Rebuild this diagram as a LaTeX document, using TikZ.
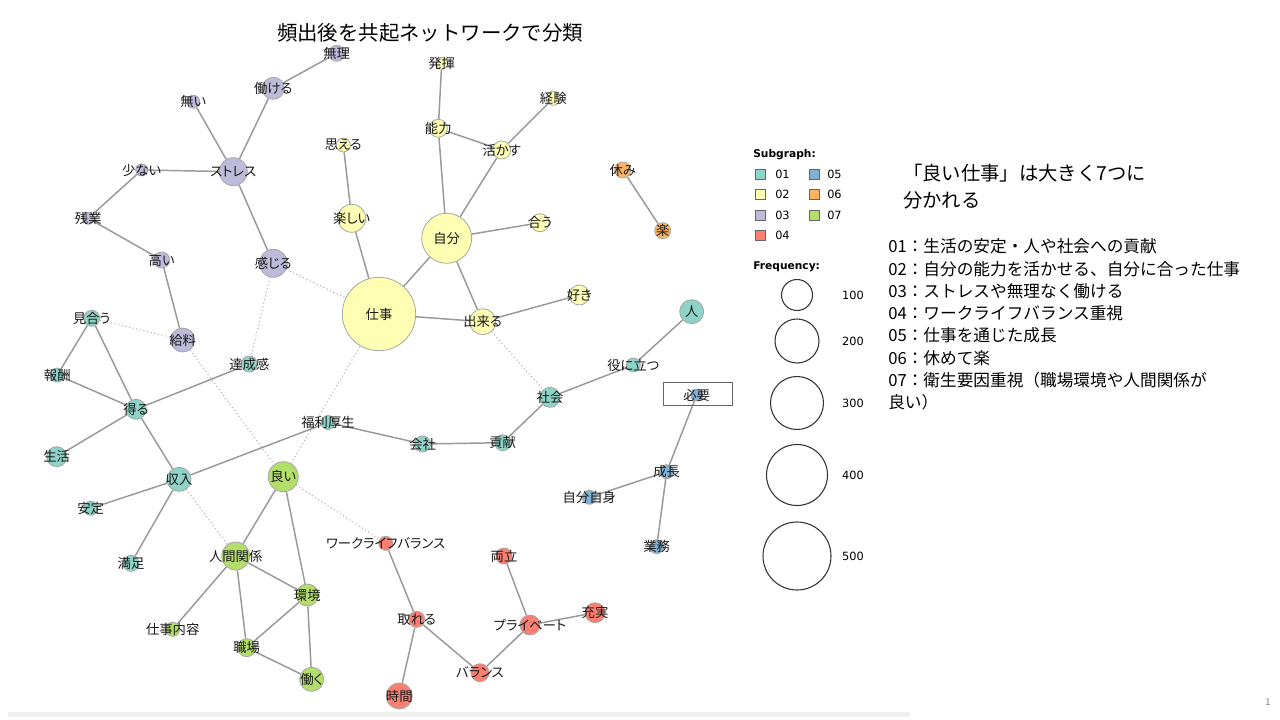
\documentclass[tikz,border=0pt]{standalone}
\usepackage{fontspec}
\setmainfont{Noto Sans CJK JP}
\newfontfamily\labfont[RawFeature=+palt]{Noto Sans CJK JP}
\newfontfamily\legfont{DejaVu Sans}
\usetikzlibrary{backgrounds}
\definecolor{sg01}{HTML}{8DD3C7}
\definecolor{sg02}{HTML}{FFFFB3}
\definecolor{sg03}{HTML}{BEBADA}
\definecolor{sg04}{HTML}{FB8072}
\definecolor{sg05}{HTML}{80B1D3}
\definecolor{sg06}{HTML}{FDB462}
\definecolor{sg07}{HTML}{B3DE69}

\begin{document}
\begin{tikzpicture}[x=0.75pt, y=-0.75pt,
	wn/.style={circle, draw=black!35, line width=0.6pt, inner sep=0pt},
	rad/.style={minimum size=#1*1.5pt},
	every label/.style={font=\labfont\fontsize{10}{12}\selectfont, inner sep=0pt, text=black!90},
	edge/.style={draw=black!40, line width=1.1pt},
	weak/.style={draw=black!30, line width=0.8pt, dotted},
	sq/.style={draw=black!60, line width=0.6pt, minimum size=7.5pt, inner sep=0pt},
	leg/.style={font=\legfont\fontsize{8.5}{10}\selectfont, inner sep=0pt, anchor=west},
	fc/.style={circle, draw=black!80, line width=0.8pt, inner sep=0pt}] %ピクセル単位の座標
					\useasboundingbox (0,0) rectangle (1280,720);
						%タイトル
					\node[font=\fontsize{15.3}{18}\selectfont, inner sep=0pt] (title) at (430,33) {頻出後を共起ネットワークで分類};
						%03 ストレス
					\node[wn, fill=sg03, rad=8, label=center:無理] (muri) at (336.7,53.3) {};
					\node[wn, fill=sg03, rad=11, label=center:働ける] (hatarakeru) at (273.3,88.3) {};
					\node[wn, fill=sg03, rad=6.5, label=center:無い] (nai) at (193.3,101.7) {};
					\node[wn, fill=sg03, rad=14, label=center:ストレス] (stress) at (233.3,171.7) {};
					\node[wn, fill=sg03, rad=6, label=center:少ない] (sukunai) at (141.7,170) {};
					\node[wn, fill=sg03, rad=6, label=center:残業] (zangyo) at (88.3,218.3) {};
					\node[wn, fill=sg03, rad=8, label=center:高い] (takai) at (161.7,260) {};
					\node[wn, fill=sg03, rad=14, label=center:感じる] (kanjiru) at (273.3,263.3) {};
					\node[wn, fill=sg03, rad=12, label=center:給料] (kyuryo) at (182.7,340) {};
						%02 自分
					\node[wn, fill=sg02, rad=7, label=center:思える] (omoeru) at (343.3,145) {};
					\node[wn, fill=sg02, rad=14, label=center:楽しい] (tanoshii) at (351.7,218.3) {};
					\node[wn, fill=sg02, rad=36.7, label=center:仕事] (shigoto) at (379,314) {};
					\node[wn, fill=sg02, rad=25, label=center:自分] (jibun) at (446.7,238.3) {};
					\node[wn, fill=sg02, rad=9, label=center:能力] (noryoku) at (438.3,128.3) {};
					\node[wn, fill=sg02, rad=6, label=center:発揮] (hakki) at (441.7,63.3) {};
					\node[wn, fill=sg02, rad=9, label=center:活かす] (ikasu) at (501.7,150) {};
					\node[wn, fill=sg02, rad=7, label=center:経験] (keiken) at (553.3,98.3) {};
					\node[wn, fill=sg02, rad=9, label=center:合う] (au) at (540,222.7) {};
					\node[wn, fill=sg02, rad=13, label=center:出来る] (dekiru) at (482.7,321.7) {};
					\node[wn, fill=sg02, rad=10, label=center:好き] (suki) at (579.3,295) {};
						%06 休み
					\node[wn, fill=sg06, rad=8, label=center:休み] (yasumi) at (622.7,170) {};
					\node[wn, fill=sg06, rad=8, label=center:楽] (raku) at (662.7,230.7) {};
						%01 生活・社会
					\node[wn, fill=sg01, rad=12, label=center:人] (hito) at (691.7,311.7) {};
					\node[wn, fill=sg01, rad=7, label=center:役に立つ] (yakunitatsu) at (633.3,365) {};
					\node[wn, fill=sg01, rad=10, label=center:社会] (shakai) at (550,397.3) {};
					\node[wn, fill=sg01, rad=8, label=center:貢献] (koken) at (502.7,442.7) {};
					\node[wn, fill=sg01, rad=8, label=center:会社] (kaisha) at (422.7,444) {};
					\node[wn, fill=sg01, rad=7, label=center:福利厚生] (fukuri) at (328,422.5) {};
					\node[wn, fill=sg01, rad=8, label=center:見合う] (miau) at (91.7,318.3) {};
					\node[wn, fill=sg01, rad=7, label=center:報酬] (hoshu) at (57.3,375) {};
					\node[wn, fill=sg01, rad=10, label=center:得る] (eru) at (136,409.3) {};
					\node[wn, fill=sg01, rad=8, label=center:達成感] (tassei) at (249.3,364) {};
					\node[wn, fill=sg01, rad=10, label=center:生活] (seikatsu) at (56.7,456.7) {};
					\node[wn, fill=sg01, rad=12, label=center:収入] (shunyu) at (179,479.3) {};
					\node[wn, fill=sg01, rad=7, label=center:安定] (antei) at (90.7,508.3) {};
					\node[wn, fill=sg01, rad=8, label=center:満足] (manzoku) at (131,563.3) {};
						%07 職場環境
					\node[wn, fill=sg07, rad=15, label=center:良い] (yoi) at (283.3,476.7) {};
					\node[wn, fill=sg07, rad=14, label=center:人間関係] (ningen) at (235.7,556) {};
					\node[wn, fill=sg07, rad=7, label=center:仕事内容] (naiyo) at (172.7,629.3) {};
					\node[wn, fill=sg07, rad=11, label=center:環境] (kankyo) at (307.3,595) {};
					\node[wn, fill=sg07, rad=9, label=center:職場] (shokuba) at (246.7,647.7) {};
					\node[wn, fill=sg07, rad=12, label=center:働く] (hataraku) at (311.7,679.3) {};
						%05 成長
					\node[draw=black!60, line width=0.8pt, minimum width=51.75pt, minimum height=16.9pt, inner sep=0pt] (hitsuyobox) at (697.8,394) {}; %囲み枠
					\node[wn, fill=sg05, rad=6, label=center:必要] (hitsuyo) at (696.7,395) {};
					\node[wn, fill=sg05, rad=7, label=center:成長] (seicho) at (666.7,471.7) {};
					\node[wn, fill=sg05, rad=7, label=center:自分自身] (jishin) at (589.3,497.3) {};
					\node[wn, fill=sg05, rad=7, label=center:業務] (gyomu) at (656.7,546.7) {};
						%04 ワークライフバランス
					\node[wn, fill=sg04, rad=7, label=center:ワークライフバランス] (wlb) at (385.7,543.3) {};
					\node[wn, fill=sg04, rad=8, label=center:取れる] (toreru) at (416.7,619.3) {};
					\node[wn, fill=sg04, rad=13, label=center:時間] (jikan) at (399.3,696) {};
					\node[wn, fill=sg04, rad=8, label=center:両立] (ryoritsu) at (504,556) {};
					\node[wn, fill=sg04, rad=10, label=center:プライベート] (private) at (530,625) {};
					\node[wn, fill=sg04, rad=10, label=center:充実] (jujitsu) at (595,612.7) {};
					\node[wn, fill=sg04, rad=9, label=center:バランス] (balance) at (480,672.7) {};
						%共起の線
					\begin{pgfonlayer}{background}
					\fill[white] (0,0) rectangle (1280,720); %白い下地
					\draw[edge] (muri) -- (hatarakeru) -- (stress) -- (kanjiru) (nai) -- (stress) -- (sukunai) -- (zangyo) -- (takai) -- (kyuryo); %03
					\draw[edge] (omoeru) -- (tanoshii) -- (shigoto) -- (jibun) -- (noryoku) -- (hakki) (noryoku) -- (ikasu) -- (keiken) (ikasu) -- (jibun) -- (au); %02
					\draw[edge] (jibun) -- (dekiru) -- (suki) (shigoto) -- (dekiru); %02
					\draw[edge] (yasumi) -- (raku); %06
					\draw[edge] (hito) -- (yakunitatsu) -- (shakai) -- (koken) -- (kaisha) -- (fukuri) -- (shunyu); %01
					\draw[edge] (miau) -- (hoshu) -- (eru) -- (miau) (eru) -- (tassei) (eru) -- (seikatsu) (eru) -- (shunyu) -- (antei) (shunyu) -- (manzoku); %01
					\draw[edge] (yoi) -- (ningen) -- (kankyo) -- (yoi) (ningen) -- (naiyo) (ningen) -- (shokuba) -- (kankyo) -- (hataraku) -- (shokuba); %07
					\draw[edge] (hitsuyo) -- (seicho) -- (jishin) (seicho) -- (gyomu); %05
					\draw[edge] (wlb) -- (toreru) -- (jikan) (toreru) -- (balance) -- (private) -- (ryoritsu) (private) -- (jujitsu); %04
					\draw[weak] (kanjiru) -- (shigoto) (kanjiru) -- (tassei) (miau) -- (kyuryo) -- (yoi) -- (shigoto); %グループ間
					\draw[weak] (shunyu) -- (ningen) (yoi) -- (wlb) (dekiru) -- (shakai); %グループ間
					\end{pgfonlayer}
						%凡例
					\node[leg, font=\legfont\bfseries\fontsize{8}{10}\selectfont] (subgraph) at (753,154.5) {Subgraph:};
					\node[sq, fill=sg01] (sqA) at (760,174.3) {}; \node[leg] (tA) at (775,174.3) {01};
					\node[sq, fill=sg02] (sqB) at (760,194.3) {}; \node[leg] (tB) at (775,194.3) {02};
					\node[sq, fill=sg03] (sqC) at (760,215) {}; \node[leg] (tC) at (775,215) {03};
					\node[sq, fill=sg04] (sqD) at (760,235.7) {}; \node[leg] (tD) at (775,235.7) {04};
					\node[sq, fill=sg05] (sqE) at (814,174.3) {}; \node[leg] (tE) at (827,174.3) {05};
					\node[sq, fill=sg06] (sqF) at (814,194.3) {}; \node[leg] (tF) at (827,194.3) {06};
					\node[sq, fill=sg07] (sqG) at (814,215) {}; \node[leg] (tG) at (827,215) {07};
					\node[leg, font=\legfont\bfseries\fontsize{8}{10}\selectfont] (frequency) at (753,266.7) {Frequency:};
					\node[fc, rad=15.5] (fA) at (797,295) {}; \node[leg, anchor=center] (nA) at (853,295) {100};
					\node[fc, rad=22] (fB) at (797,341) {}; \node[leg, anchor=center] (nB) at (853,341) {200};
					\node[fc, rad=26.5] (fC) at (797,403) {}; \node[leg, anchor=center] (nC) at (853,403) {300};
					\node[fc, rad=30.5] (fD) at (797,475) {}; \node[leg, anchor=center] (nD) at (853,475) {400};
					\node[fc, rad=34] (fE) at (797,556) {}; \node[leg, anchor=center] (nE) at (853,556) {500};
						%右側の説明
					\node[anchor=north west, align=left, inner sep=0pt, font=\fontsize{14.5}{20.25}\selectfont] (headline) at (903,164.3) {「良い仕事」は大きく7つに\\ 分かれる};
					\node[anchor=north west, align=left, inner sep=0pt, font=\fontsize{12.5}{16.7}\selectfont] (groups) at (888,238.5) {01：生活の安定・人や社会への貢献\\02：自分の能力を活かせる、自分に合った仕事\\03：ストレスや無理なく働ける\\04：ワークライフバランス重視\\05：仕事を通じた成長\\06：休めて楽\\07：衛生要因重視（職場環境や人間関係が\\良い）};
						%下の帯とページ番号
					\fill[black!6] (8,712) rectangle (910,717);
					\node[font=\fontsize{7}{8}\selectfont, text=black!50, inner sep=0pt] (page) at (1268,702) {1};
				\end{tikzpicture}
\end{document}
